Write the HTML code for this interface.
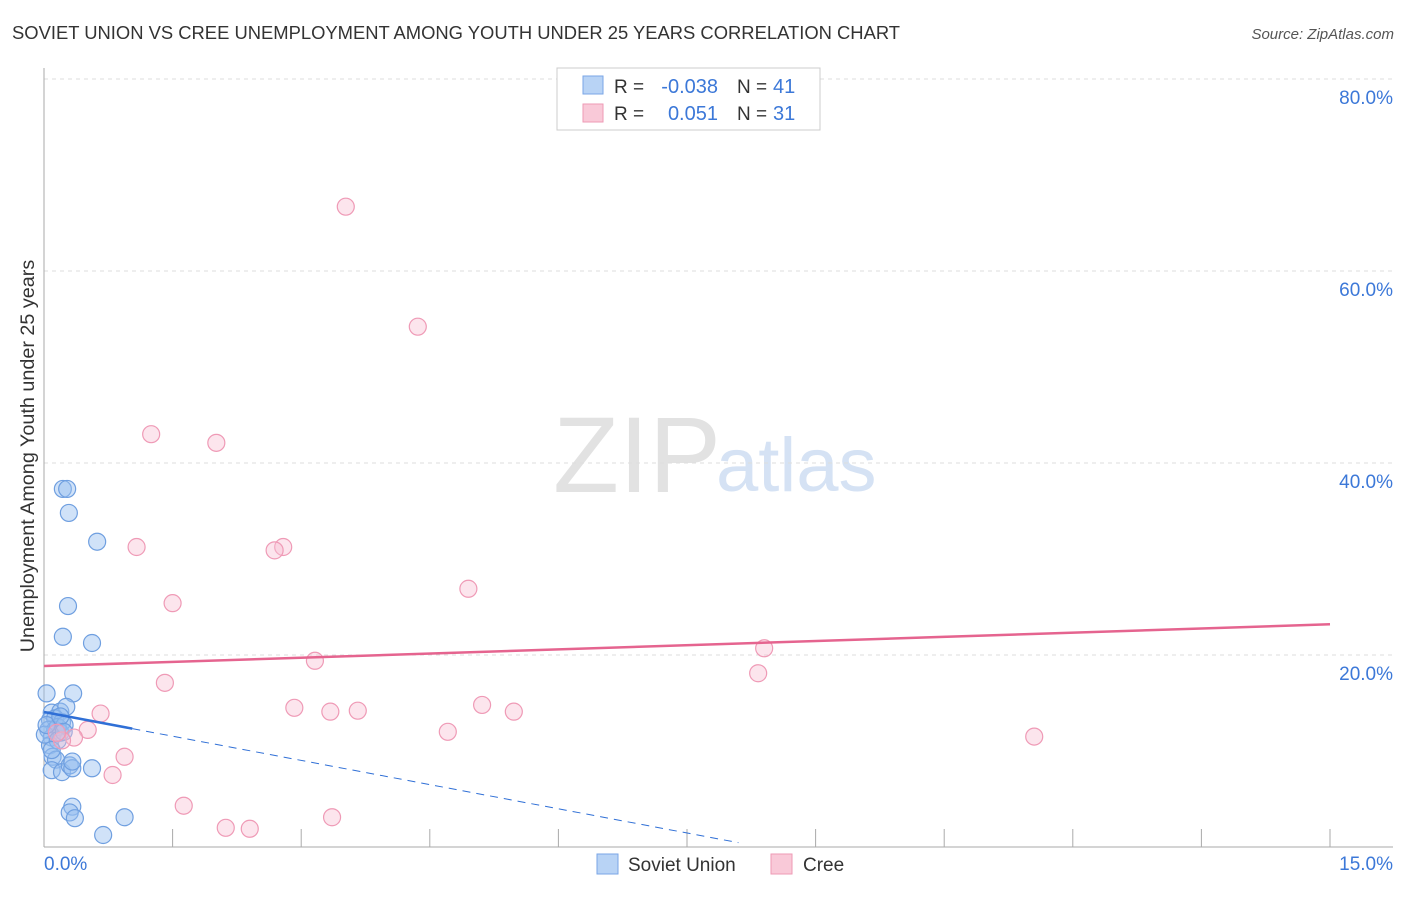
<!DOCTYPE html>
<html><head><meta charset="utf-8"><style>
body{margin:0;background:#fff;font-family:"Liberation Sans",sans-serif;}
svg text{font-family:"Liberation Sans",sans-serif;}
</style></head><body>
<svg id="chart" width="1406" height="892">
<text x="12" y="39" font-size="18.4" fill="#333">SOVIET UNION VS CREE UNEMPLOYMENT AMONG YOUTH UNDER 25 YEARS CORRELATION CHART</text>
<text x="1394" y="39" font-size="15" fill="#555" font-style="italic" text-anchor="end">Source: ZipAtlas.com</text>
<text x="553" y="492" font-size="108" fill="#e2e2e2" font-family="Liberation Serif">ZIP</text>
<text x="716" y="491" font-size="76" fill="#d5e2f4">atlas</text>
<text transform="translate(34,456) rotate(-90)" font-size="19.8" fill="#333" text-anchor="middle">Unemployment Among Youth under 25 years</text>
<g id="grid"></g><g id="pts"></g><g id="trend"></g>
<g>
<rect x="557" y="68" width="263" height="62" fill="#fff" stroke="#ccc"/>
<rect x="583" y="76" width="20" height="18" fill="#b8d3f5" stroke="#7aa6e6"/>
<rect x="583" y="104" width="20" height="18" fill="#f9c9d8" stroke="#ee9ab5"/>
<text x="614" y="93" font-size="19" fill="#333">R =</text>
<text x="718" y="93" font-size="20" fill="#3c78d8" text-anchor="end">-0.038</text>
<text x="737" y="93" font-size="19" fill="#333">N =</text>
<text x="773" y="93" font-size="20" fill="#3c78d8">41</text>
<text x="614" y="120" font-size="19" fill="#333">R =</text>
<text x="718" y="120" font-size="20" fill="#3c78d8" text-anchor="end">0.051</text>
<text x="737" y="120" font-size="19" fill="#333">N =</text>
<text x="773" y="120" font-size="20" fill="#3c78d8">31</text>
</g>
<g>
<rect x="597" y="854" width="21" height="20" fill="#b8d3f5" stroke="#7aa6e6"/>
<text x="628" y="871" font-size="19" fill="#333">Soviet Union</text>
<rect x="771" y="854" width="21" height="20" fill="#f9c9d8" stroke="#ee9ab5"/>
<text x="803" y="871" font-size="19" fill="#333">Cree</text>
</g>
</svg>
<script>
const yTicks=[20,40,60,80];
const yTickLabels=["20.0%","40.0%","60.0%","80.0%"];
const xTicks=[0,1.5,3,4.5,6,7.5,9,10.5,12,13.5,15];
const sovietX=[0.22,0.27,0.29,0.62,0.28,0.22,0.56,0.03,0.34,0.09,0.19,0.26,0.07,0.13,0.21,0.05,0.13,0.19,0.09,0.16,0.07,0.10,0.14,0.09,0.21,0.30,0.33,0.33,0.56,0.33,0.30,0.36,0.94,0.69,0.01,0.03,0.16,0.24,0.09,0.19,0.23];
const sovietY=[37.3,37.3,34.8,31.8,25.1,21.9,21.25,16.0,16.0,14.0,14.1,14.6,13.2,13.4,13.0,12.2,12.2,11.9,11.4,12.5,10.6,9.4,9.1,8.0,7.8,8.5,8.2,8.9,8.2,4.2,3.6,3.0,3.1,1.25,11.7,12.7,11.1,12.7,10.1,13.6,12.0];
const creeX=[3.52,4.36,1.25,2.01,1.08,2.79,2.69,1.50,4.95,3.16,8.40,8.33,1.41,2.92,3.34,3.66,5.11,5.48,0.66,4.71,11.55,0.51,0.35,0.94,0.80,1.63,2.12,2.40,3.36,0.21,0.15];
const creeY=[66.7,54.2,43.0,42.1,31.25,31.25,30.9,25.4,26.9,19.4,20.7,18.1,17.1,14.5,14.1,14.2,14.8,14.1,13.9,12.0,11.5,12.2,11.4,9.4,7.5,4.3,2.0,1.9,3.1,11.1,11.9];
const creeTrend=[18.85,0.29];
const sovietTrend=[14.06,-1.68];
const sovietSolidEnd=1.03, sovietDashEnd=8.1;

const NS="http://www.w3.org/2000/svg";
const X=v=>44+v*(1286/15), Y=v=>847-v*9.6;
function mk(t,a,p){const e=document.createElementNS(NS,t);for(const k in a)e.setAttribute(k,a[k]);p.appendChild(e);return e;}
const grid=document.getElementById('grid');
yTicks.forEach((t,i)=>{
 const l=mk('line',{x1:44,x2:1393,y1:Y(t),y2:Y(t),stroke:'#ddd','stroke-dasharray':'4,4'},grid);
 
 
 const tx=mk('text',{x:1393,y:Y(t)+25,'font-size':19,fill:'#3c78d8','text-anchor':'end'},grid);
 tx.textContent=yTickLabels[i];
 
 
});
mk('line',{x1:44,x2:1393,y1:847,y2:847,stroke:'#aaa'},grid);
mk('line',{x1:44,x2:44,y1:68,y2:847,stroke:'#aaa'},grid);
xTicks.forEach(t=>{const l=mk('line',{x1:X(t),x2:X(t),y1:829,y2:847,stroke:'#aaa'},grid);
 
 });
const a=mk('text',{x:44,y:870,'font-size':19,fill:'#3c78d8'},grid);a.textContent='0.0%';


const b=mk('text',{x:1393,y:870,'font-size':19,fill:'#3c78d8','text-anchor':'end'},grid);b.textContent='15.0%';


const pts=document.getElementById('pts');
sovietX.forEach((x,i)=>{const c=mk('circle',{cx:X(x),cy:Y(sovietY[i]),r:8.5,fill:'rgba(150,190,240,0.45)',stroke:'#6f9fe0','stroke-width':1.2},pts);
 
 });
creeX.forEach((x,i)=>{const c=mk('circle',{cx:X(x),cy:Y(creeY[i]),r:8.5,fill:'rgba(248,190,210,0.4)',stroke:'#ef9ab6','stroke-width':1.2},pts);
 
 });
const tr=document.getElementById('trend');
const f=(t,x)=>t[0]+t[1]*x;
let l1=mk('line',{x1:X(0),y1:Y(f(creeTrend,0)),x2:X(15),y2:Y(f(creeTrend,15)),stroke:'#e5648f','stroke-width':2.5},tr);


let l2=mk('line',{x1:X(0),y1:Y(f(sovietTrend,0)),x2:X(sovietSolidEnd),y2:Y(f(sovietTrend,sovietSolidEnd)),stroke:'#2f6fd6','stroke-width':2.5},tr);


let l3=mk('line',{x1:X(sovietSolidEnd),y1:Y(f(sovietTrend,sovietSolidEnd)),x2:X(sovietDashEnd),y2:Y(f(sovietTrend,sovietDashEnd)),stroke:'#2f6fd6','stroke-width':1,'stroke-dasharray':'8,6'},tr);


</script>
</body></html>
